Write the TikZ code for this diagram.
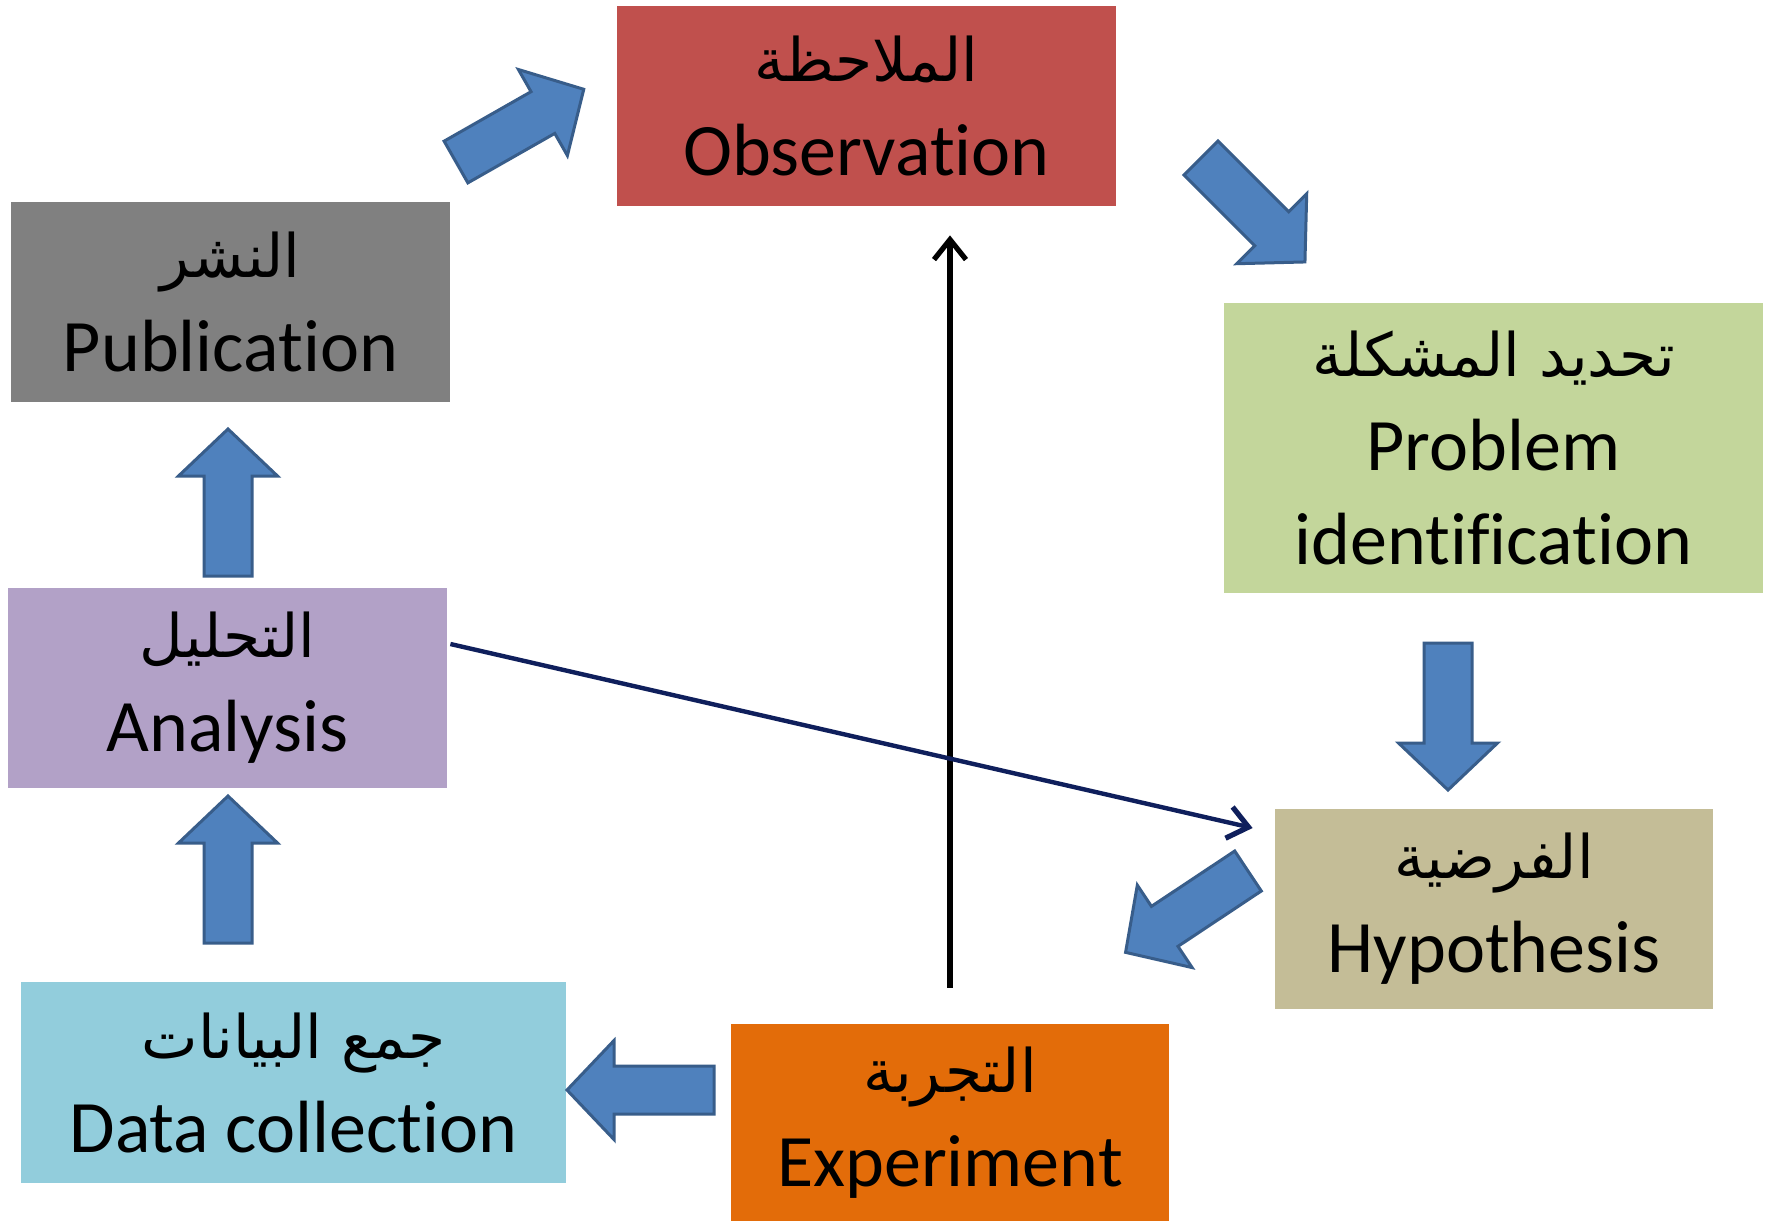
\documentclass[tikz,border=0pt]{standalone}
\usepackage{fontspec}
\setmainfont{Carlito}[Ligatures={NoCommon}]
\newfontfamily\arabicfont[Script=Arabic]{DejaVu Sans}
\TeXXeTstate=1
\usetikzlibrary{calc,arrows.meta}
\definecolor{obsred}{HTML}{C0504D}
\definecolor{pubgray}{HTML}{808080}
\definecolor{probgreen}{HTML}{C3D69B}
\definecolor{anapurple}{HTML}{B2A1C7}
\definecolor{hyptan}{HTML}{C4BD97}
\definecolor{datablue}{HTML}{92CDDC}
\definecolor{exporange}{HTML}{E36C09}
\definecolor{arrfill}{HTML}{4F81BD}
\definecolor{arrdraw}{HTML}{385D8A}
\definecolor{navyline}{HTML}{0F1F5C}
\newcommand\ar[1]{{\arabicfont\fontsize{30}{42}\selectfont\beginR #1\endR}}
\newcommand\barrow[2]{%
  \draw[blockarrow, shift={(#1)}, rotate=#2]
    (0,-24) -- (100,-24) -- (100,-49.5) -- (147,0) -- (100,49.5) -- (100,24) -- (0,24) -- cycle;}
\begin{document}
\begin{tikzpicture}[x=0.5pt,y=-0.5pt,
  box/.style={draw=none, inner sep=0pt, align=center, text=black,
    font=\fontsize{37}{47}\selectfont},
  blockarrow/.style={fill=arrfill, draw=arrdraw, line width=1.5pt, line join=miter},
  thinarrow/.style={line width=2.8pt, -{Straight Barb[length=10pt,width=16pt,line width=2.6pt]}}]
\useasboundingbox (0,0) rectangle (1771,1222);
\fill[white] (0,0) rectangle (1771,1222);

\node[box, fill=obsred, minimum width=249.5pt, minimum height=100pt] (obs) at (866.5,106)
  {\ar{الملاحظة}\\Observation};
\node[box, fill=pubgray, minimum width=219.5pt, minimum height=100pt] (pub) at (230.5,302)
  {\ar{النشر}\\Publication};
\node[box, fill=probgreen, minimum width=269.5pt, minimum height=145pt] (prob) at (1493.5,448)
  {\ar{تحديد المشكلة}\\Problem\\identification};
\node[box, fill=anapurple, minimum width=219.5pt, minimum height=100pt] (ana) at (227.5,688)
  {\ar{التحليل}\\Analysis};
\node[box, fill=hyptan, minimum width=219pt, minimum height=100pt] (hyp) at (1494,909)
  {\ar{الفرضية}\\Hypothesis};
\node[box, fill=datablue, minimum width=272.5pt, minimum height=100.5pt] (data) at (293.5,1082.5)
  {\ar{جمع البيانات}\\Data collection};
\node[box, fill=exporange, minimum width=219pt, minimum height=98.5pt] (exp) at (950,1122.5)
  {\ar{التجربة}\\Experiment};

% block arrows
\barrow{456,162}{29.65}
\barrow{1201,158}{-45}
\barrow{1448,643}{-90}
\barrow{1248,871}{-146.4}
\barrow{714,1090}{180}
\barrow{228,943}{90}
\barrow{228,576}{90}

% line arrows
\draw[thinarrow, black, shorten <=18pt, shorten >=14.5pt] (exp.north) -- (exp.north |- obs.south);
\coordinate (nstart) at ($(ana.east)+(3,-44)$);
\coordinate (nend) at ($(hyp.west)+(-22,-81)$);
\draw[thinarrow, navyline, line width=2.2pt] (nstart) -- (nend);
\end{tikzpicture}
\end{document}
